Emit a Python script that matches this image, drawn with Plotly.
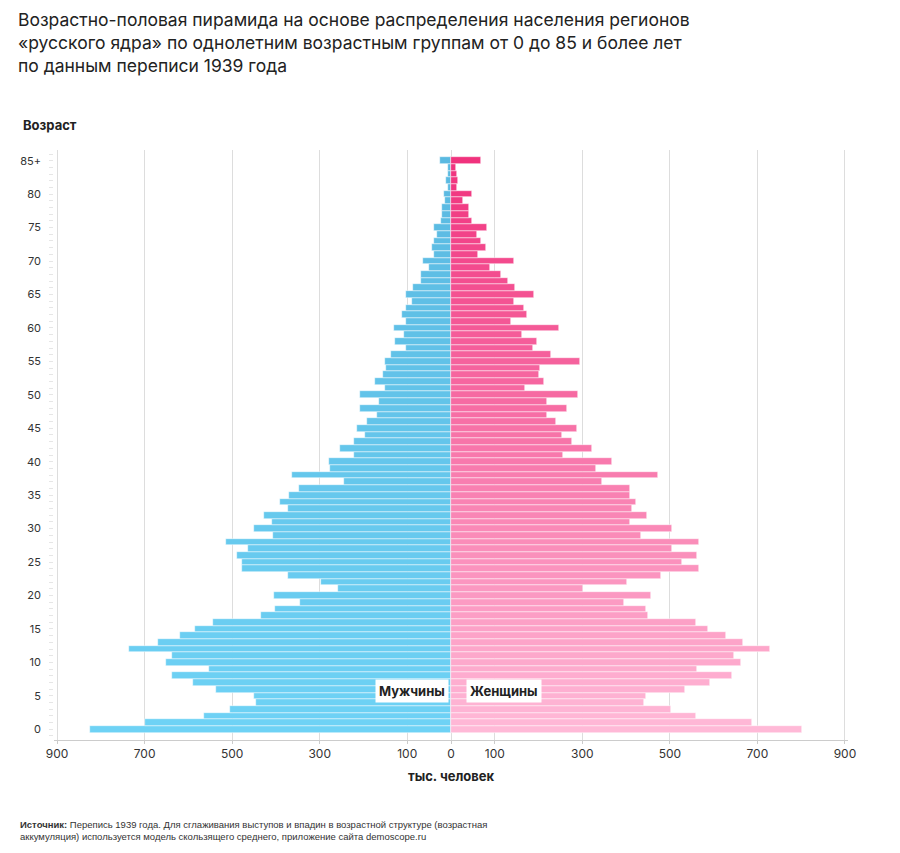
import plotly.graph_objects as go

ages = list(range(0, 86))
male = [824, 699, 565, 505, 446, 451, 537, 589, 637, 553, 652, 637, 735, 669, 619, 585, 543, 433, 402, 345,
        405, 258, 298, 372, 478, 477, 489, 463, 514, 407, 451, 408, 428, 372, 391, 369, 348, 245, 364, 276,
        278, 221, 253, 222, 197, 215, 191, 168, 209, 164, 209, 151, 174, 156, 149, 151, 136, 103, 128, 108,
        131, 103, 111, 103, 90, 103, 87, 68, 68, 51, 63, 38, 44, 38, 32, 38, 24, 20, 20, 13,
        17, 7, 11, 7, 6, 25]
female = [801, 687, 559, 503, 441, 446, 534, 592, 642, 561, 663, 647, 729, 666, 629, 586, 559, 449, 446, 396,
          458, 301, 402, 479, 566, 528, 561, 504, 566, 433, 504, 408, 447, 413, 422, 408, 408, 344, 472, 331,
          367, 257, 322, 276, 253, 287, 239, 220, 264, 220, 291, 169, 212, 201, 203, 295, 228, 187, 197, 162,
          246, 136, 174, 166, 145, 190, 147, 131, 114, 90, 145, 62, 80, 68, 59, 83, 48, 40, 40, 27,
          48, 13, 17, 13, 11, 69]
tick_vals = [0, 5, 10, 15, 20, 25, 30, 35, 40, 45, 50, 55, 60, 65, 70, 75, 80, 85]
tick_text = ["0", "5", "10", "15", "20", "25", "30", "35", "40", "45", "50", "55", "60", "65", "70", "75", "80", "85+"]
x_vals = [-900, -700, -500, -300, -100, 0, 100, 300, 500, 700, 900]
x_text = ["900", "700", "500", "300", "100", "0", "100", "300", "500", "700", "900"]

def lerp(c1, c2, t):
    return "rgb(%d,%d,%d)" % tuple(round(a + (b - a) * t) for a, b in zip(c1, c2))

male_colors = [lerp((110, 210, 245), (90, 185, 225), a / 85) for a in ages]
female_colors = [lerp((255, 185, 215), (240, 50, 125), a / 85) for a in ages]

fig = go.Figure()
fig.add_trace(go.Bar(y=ages, x=[-v for v in male], orientation="h", name="Мужчины",
                     marker=dict(color=male_colors, line=dict(width=0.6, color="rgba(255,255,255,0.8)")),
                     customdata=male, hovertemplate="%{y}: %{customdata}<extra>Мужчины</extra>"))
fig.add_trace(go.Bar(y=ages, x=female, orientation="h", name="Женщины",
                     marker=dict(color=female_colors, line=dict(width=0.6, color="rgba(255,255,255,0.8)")),
                     hovertemplate="%{y}: %{x}<extra>Женщины</extra>"))

font = "Inter, Roboto, sans-serif"
fig.update_layout(
    width=900, height=853, barmode="relative", bargap=0.0, showlegend=False,
    paper_bgcolor="white", plot_bgcolor="white",
    margin=dict(l=42, r=60, t=142, b=121),
    font=dict(family=font, color="#222"),
    xaxis=dict(range=[-907, 907], tickvals=x_vals, ticktext=x_text, showgrid=True,
               gridcolor="#dddddd", gridwidth=1, zeroline=False, showline=True, linecolor="#cccccc",
               ticks="outside", ticklen=3, tickcolor="#cccccc", tickfont=dict(size=12, color="#333")),
    yaxis=dict(range=[-1.6, 86.6], tickvals=tick_vals, ticktext=tick_text, showgrid=False,
               zeroline=False, ticks="", tickfont=dict(size=11, color="#333"), ticklabelstandoff=12,
               minor=dict(dtick=1, ticks="outside", ticklen=4, tickcolor="#e6e6e6")),
)
fig.add_annotation(text="Возрастно-половая пирамида на основе распределения населения регионов<br>«русского ядра» по однолетним возрастным группам от 0 до 85 и более лет<br>по данным переписи 1939 года",
                   xref="paper", yref="paper", x=-0.048, y=1.183, xanchor="left", yanchor="middle",
                   align="left", showarrow=False, font=dict(size=17.5, color="#222", family=font))
fig.add_annotation(text="<b>Возраст</b>", xref="paper", yref="paper", x=-0.042, y=1.042,
                   xanchor="left", yanchor="middle", showarrow=False, font=dict(size=13, color="#222"))
fig.add_annotation(text="<b>тыс. человек</b>", xref="paper", yref="paper", x=0.5, y=-0.061,
                   xanchor="center", yanchor="middle", showarrow=False, font=dict(size=13, color="#222"))
fig.add_annotation(text="<b>Источник:</b> Перепись 1939 года. Для сглаживания выступов и впадин в возрастной структуре (возрастная<br>аккумуляция) используется модель скользящего среднего, приложение сайта demoscope.ru",
                   xref="paper", yref="paper", x=-0.045, y=-0.153, xanchor="left", yanchor="middle",
                   align="left", showarrow=False, font=dict(size=9.5, color="#333", family="Liberation Sans, Arial"))
fig.add_annotation(text="<b>Мужчины</b>", x=-90, y=5.8, xanchor="center", showarrow=False,
                   bgcolor="white", borderpad=3, font=dict(size=13, color="#222"))
fig.add_annotation(text="<b>Женщины</b>", x=120, y=5.8, xanchor="center", showarrow=False,
                   bgcolor="white", borderpad=3, font=dict(size=13, color="#222"))
fig.write_html("out.html")
